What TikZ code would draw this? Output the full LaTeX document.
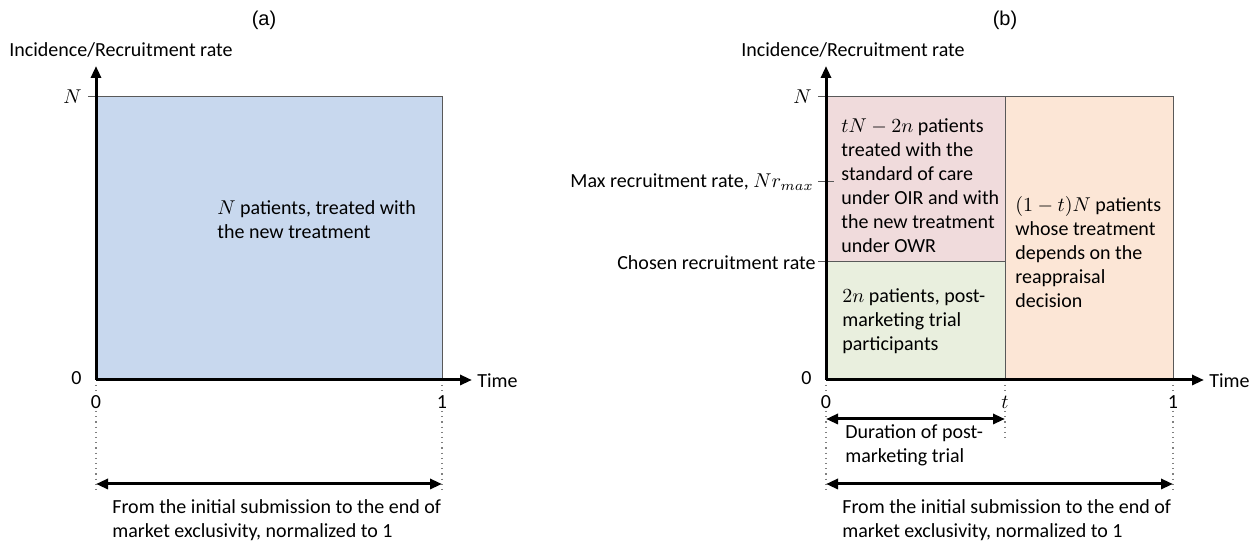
\documentclass[tikz,border=0pt]{standalone}
\usepackage{fontspec}
\setmainfont{Carlito}
\newfontfamily\panelfont{Liberation Sans}
\usetikzlibrary{arrows.meta}

\definecolor{areablue}{RGB}{200,216,238}
\definecolor{areapink}{RGB}{240,219,220}
\definecolor{areagreen}{RGB}{233,239,222}
\definecolor{areaorange}{RGB}{252,230,214}

\tikzset{
  axisline/.style={line width=1.5pt, -{Triangle[length=6pt,width=5pt]}},
  spanline/.style={line width=1.5pt, {Triangle[length=6pt,width=5pt]}-{Triangle[length=6pt,width=5pt]}},
  guide/.style={gray, dotted, line width=0.6pt},
  edge/.style={draw=gray!70!black, line width=0.5pt},
  tickmark/.style={gray!70!black, line width=0.5pt},
  txt/.style={font=\fontsize{10}{12}\selectfont, inner sep=0pt},
  blocktxt/.style={txt, align=left, anchor=west},
}

\begin{document}
\begin{tikzpicture}[x=0.5pt, y=-0.5pt]
        \useasboundingbox (0,0) rectangle (1255,544);

        % panel (a)
        \fill[areablue] (96,97) rectangle (442,380);
        \draw[edge] (96,97) rectangle (442,380);

        \coordinate (oa) at (96,380);
        \coordinate (ya) at (96,66);
        \coordinate (xa) at (472,380);
        \coordinate (na) at (88,97);
        \draw[tickmark] (na) -- (oa |- na);
        \draw[axisline] (oa) -- (ya);
        \draw[axisline] (oa) -- (xa);

        \coordinate (ga0) at (96,385);
        \coordinate (ga1) at (96,492);
        \coordinate (gb0) at (442,385);
        \coordinate (gb1) at (442,492);
        \draw[guide] (ga0) -- (ga1);
        \draw[guide] (gb0) -- (gb1);

        \node[font=\panelfont\fontsize{10}{12}\selectfont] (titlea) at (264,20) {(a)};
        \node[txt, anchor=west] (ylaba) at (9,50) {Incidence/Recruitment rate};
        \node[txt, anchor=west] (timea) at (477,381) {Time};
        \node[txt, anchor=east] (Na) at (82,97) {$N$};
        \node[txt, anchor=east] (za) at (82,378) {0};
        \node[txt, fill=white, inner sep=0.5pt] (x0a) at (96,402) {0};
        \node[txt, fill=white, inner sep=0.5pt] (x1a) at (442,402) {1};
        \node[blocktxt] (bodya) at (217,220) {$N$ patients, treated with\\the new treatment};

        \draw[spanline] (96,484) coordinate (sa0) -- (442,484) coordinate (sa1);
        \node[blocktxt] (spana) at (112,520) {From the initial submission to the end of\\market exclusivity, normalized to 1};

        % panel (b)
        \fill[areapink] (826,97) rectangle (1005,262);
        \fill[areagreen] (826,262) rectangle (1005,380);
        \fill[areaorange] (1005,97) rectangle (1173,380);
        \draw[edge] (826,97) rectangle (1173,380);
        \draw[edge] (826,262) -- (1005,262);
        \draw[edge] (1005,97) -- (1005,380);

        \coordinate (ob) at (826,380);
        \coordinate (yb) at (826,66);
        \coordinate (xb) at (1204,380);
        \coordinate (nb) at (818,97);
        \coordinate (mb) at (818,182);
        \coordinate (cb) at (818,262);
        \draw[tickmark] (nb) -- (ob |- nb);
        \draw[tickmark] (mb) -- ([xshift=4pt]ob |- mb);
        \draw[tickmark] (cb) -- (ob |- cb);
        \draw[axisline] (ob) -- (yb);
        \draw[axisline] (ob) -- (xb);

        \coordinate (gc0) at (826,385);
        \coordinate (gc1) at (826,492);
        \coordinate (gd0) at (1005,385);
        \coordinate (gd1) at (1005,442);
        \coordinate (ge0) at (1173,385);
        \coordinate (ge1) at (1173,492);
        \draw[guide] (gc0) -- (gc1);
        \draw[guide] (gd0) -- (gd1);
        \draw[guide] (ge0) -- (ge1);

        \node[font=\panelfont\fontsize{10}{12}\selectfont] (titleb) at (1005,20) {(b)};
        \node[txt, anchor=west] (ylabb) at (741,50) {Incidence/Recruitment rate};
        \node[txt, anchor=west] (timeb) at (1209,381) {Time};
        \node[txt, anchor=east] (Nb) at (812,97) {$N$};
        \node[txt, anchor=east] (maxb) at (814,182) {Max recruitment rate, $Nr_{max}$};
        \node[txt, anchor=east] (chosenb) at (816,263) {Chosen recruitment rate};
        \node[txt, anchor=east] (zb) at (812,378) {0};
        \node[txt, fill=white, inner sep=0.5pt] (x0b) at (826,402) {0};
        \node[txt, fill=white, inner sep=0.5pt] (xtb) at (1005,402) {$t$};
        \node[txt, fill=white, inner sep=0.5pt] (x1b) at (1173,402) {1};

        \node[blocktxt] (pinkb) at (841,186) {$tN-2n$ patients\\treated with the\\standard of care\\under OIR and with\\the new treatment\\under OWR};
        \node[blocktxt] (greenb) at (842,321) {$2n$ patients, post-\\marketing trial\\participants};
        \node[blocktxt] (orangeb) at (1015,252) {$(1-t)N$ patients\\whose treatment\\depends on the\\reappraisal\\decision};

        \draw[spanline] (826,419) coordinate (sb0) -- (1005,419) coordinate (sb1);
        \node[blocktxt] (durb) at (845,445) {Duration of post-\\marketing trial};
        \draw[spanline] (826,484) coordinate (sc0) -- (1173,484) coordinate (sc1);
        \node[blocktxt] (spanb) at (842,520) {From the initial submission to the end of\\market exclusivity, normalized to 1};
\end{tikzpicture}
\end{document}
